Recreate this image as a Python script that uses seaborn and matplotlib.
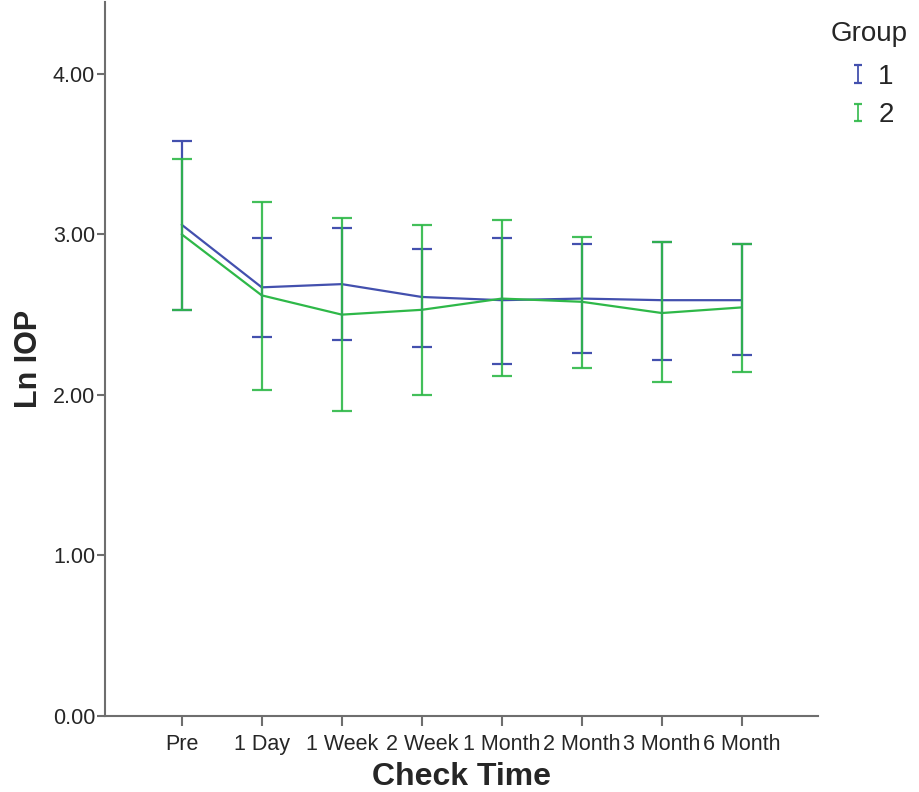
import numpy as np
import pandas as pd
import matplotlib
matplotlib.use("Agg")
import matplotlib.pyplot as plt
from matplotlib.container import ErrorbarContainer
from matplotlib.legend_handler import HandlerErrorbar
from matplotlib.lines import Line2D
import seaborn as sns

# check times on the x axis
check_times = ["Pre", "1 Day", "1 Week", "2 Week", "1 Month", "2 Month", "3 Month", "6 Month"]
groups = ["1", "2"]

# mean Ln IOP per group
mean_g1 = [3.06, 2.67, 2.69, 2.61, 2.59, 2.60, 2.59, 2.59]
mean_g2 = [3.00, 2.62, 2.50, 2.53, 2.60, 2.58, 2.51, 2.545]

# error bar ends (lower / upper)
low_g1 = [2.53, 2.36, 2.34, 2.30, 2.19, 2.26, 2.22, 2.25]
high_g1 = [3.58, 2.98, 3.04, 2.91, 2.98, 2.94, 2.95, 2.94]
low_g2 = [2.53, 2.03, 1.90, 2.00, 2.115, 2.17, 2.08, 2.14]
high_g2 = [3.47, 3.20, 3.10, 3.06, 3.09, 2.985, 2.95, 2.94]

colors = {"1": "#4350AE", "2": "#2EB848"}


class SmallCapHandler(HandlerErrorbar):
    # legend key like SPSS: a narrow "I"
    def create_artists(self, *args, **kwargs):
        arts = super().create_artists(*args, **kwargs)
        for a in arts:
            if isinstance(a, Line2D):
                a.set_markersize(5.5)
            a.set_linewidth(1.3)
        return arts


sns.set_style("white")
plt.rcParams["font.family"] = ["Liberation Sans", "DejaVu Sans"]

pos = np.arange(len(check_times))
df = pd.DataFrame({
    "pos": np.concatenate([pos, pos]),
    "Ln IOP": mean_g1 + mean_g2,
    "Group": ["1"] * len(pos) + ["2"] * len(pos),
})

fig = plt.figure(figsize=(9.2, 7.92), dpi=100)
ax = fig.add_axes([0.114, 0.096, 0.775, 0.902])

sns.lineplot(data=df, x="pos", y="Ln IOP", hue="Group", palette=colors,
             linewidth=1.6, legend=False, ax=ax, estimator=None)

handles = []
for g, m, lo, hi in [("1", mean_g1, low_g1, high_g1), ("2", mean_g2, low_g2, high_g2)]:
    m = np.array(m)
    yerr = np.vstack([m - np.array(lo), np.array(hi) - m])
    eb = ax.errorbar(pos, m, yerr=yerr, fmt="none", ecolor=colors[g],
                     elinewidth=1.6, capsize=7.5, capthick=1.6, label=g,
                     alpha=0.9 if g == "2" else 1.0)
    handles.append(eb)

ax.set_xlim(-0.96, 7.95)
ax.set_ylim(0, 4.45)
ax.set_xticks(pos)
ax.set_xticklabels(check_times)
ax.set_yticks([0, 1, 2, 3, 4])
ax.set_yticklabels(["0.00", "1.00", "2.00", "3.00", "4.00"])

for side in ["top", "right"]:
    ax.spines[side].set_visible(False)
for side in ["left", "bottom"]:
    ax.spines[side].set_color("#6e6e6e")
    ax.spines[side].set_linewidth(1.5)

ax.tick_params(axis="x", direction="out", length=7, width=1.5, color="#6e6e6e",
               labelsize=15.5, pad=6, bottom=True)
ax.tick_params(axis="y", direction="out", length=6, width=1.5, color="#6e6e6e",
               labelsize=15.5, pad=1, left=True)

ax.set_xlabel("Check Time", fontsize=23, fontweight="bold", labelpad=5)
ax.set_ylabel("Ln IOP", fontsize=22, fontweight="bold", labelpad=6)

leg = fig.legend(handles=handles, labels=groups, title="Group",
                 loc="upper left", bbox_to_anchor=(831 / 920, 1 - 21 / 792),
                 frameon=False, fontsize=20, title_fontsize=20,
                 borderpad=0, borderaxespad=0,
                 handlelength=1.95, handletextpad=-0.25, labelspacing=0.45,
                 handler_map={ErrorbarContainer: SmallCapHandler(yerr_size=0.32)})
leg._legend_box.align = "left"
leg._legend_box.sep = 12

fig.savefig("out.png", dpi=100)
